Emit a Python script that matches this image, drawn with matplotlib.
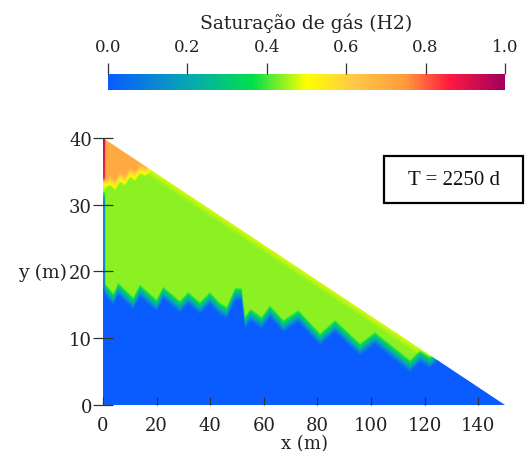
import matplotlib
matplotlib.use("Agg")
import matplotlib.pyplot as plt
import numpy as np
from matplotlib.colors import LinearSegmentedColormap
from matplotlib.patches import Polygon, Rectangle

# domain (right triangle)
x_len = 150.0
y_len = 40.0

# blue / green interface (water below, gas plume above)
front_x = [0, 0.5, 3.9, 5.7, 11.3, 13.8, 20.0, 22.5, 28.7, 31.8, 36.2, 39.9,
           43.3, 46.2, 49.3, 51.7, 53.0, 55.0, 59.2, 62.3, 67.3, 72.9, 81.0,
           86.6, 95.9, 101.5, 114.6, 118.3, 122.0, 126.0, 150.0]
front_y = [17.4, 17.0, 15.4, 17.0, 14.8, 16.7, 14.5, 16.4, 14.3, 15.6, 14.1,
           15.6, 14.1, 13.4, 16.2, 16.2, 11.9, 13.1, 11.9, 13.6, 11.4, 12.9,
           9.4, 11.4, 7.9, 9.6, 5.4, 6.9, 6.0, 7.5, 2.0]

# orange gas cap near the apex
cap_x = [0, 2.6, 4.5, 6.3, 8.2, 10.1, 11.9, 13.8, 16.0, 18.0, 150.0]
cap_y = [33.0, 33.6, 32.9, 34.1, 33.6, 34.8, 34.3, 35.3, 35.0, 36.0, 45.0]

# thin column along the left wall
wall_y = [0, 16.5, 18.0, 30.5, 32.0, 33.0, 34.0, 40.0]
wall_s = [0.0, 0.0, 0.12, 0.12, 0.45, 0.5, 0.85, 0.95]

s_water = 0.0
s_plume = 0.44
s_edge = 0.48
s_cap = 0.70

cbar_ticks = [0.0, 0.2, 0.4, 0.6, 0.8, 1.0]
x_ticks = [0, 20, 40, 60, 80, 100, 120, 140]
y_ticks = [0, 10, 20, 30, 40]

# colormap like the ParaView one
cmap = LinearSegmentedColormap.from_list("sat", [
    (0.00, "#0a5cff"),
    (0.20, "#08a6b4"),
    (0.365, "#00e04c"),
    (0.50, "#ffff00"),
    (0.62, "#ffc848"),
    (0.75, "#ff9a3c"),
    (0.86, "#ff1a40"),
    (1.00, "#a0005c"),
])

# saturation field on a fine grid
nx, ny = 1500, 400
xs = (np.arange(nx) + 0.5) * x_len / nx
ys = (np.arange(ny) + 0.5) * y_len / ny
X, Y = np.meshgrid(xs, ys)
yh = y_len * (1 - X / x_len)

yf = np.interp(X, front_x, front_y)
t_front = np.clip((Y - yf) / 2.0 + 0.3, 0, 1)
plume = s_plume + (s_edge - s_plume) * np.clip(1 - (yh - Y) / 1.2, 0, 1)
S = s_water + (plume - s_water) * t_front

yc = np.interp(X, cap_x, cap_y)
t_cap = np.clip((Y - yc) / 1.6 + 0.5, 0, 1)
S = S + (s_cap - S) * t_cap

wall = X < 0.8
S[wall] = np.interp(Y[wall], wall_y, wall_s)

fig = plt.figure(figsize=(5.25, 4.52), dpi=100)
ax = fig.add_axes([0.1962, 0.1018, 0.7657, 0.5907])

im = ax.imshow(S, extent=[0, x_len, 0, y_len], origin="lower", cmap=cmap,
               vmin=0, vmax=1, aspect="auto", interpolation="bilinear")
tri = Polygon([(0, 0), (x_len, 0), (0, y_len)], closed=True,
              transform=ax.transData, facecolor="none", edgecolor="none")
ax.add_patch(tri)
im.set_clip_path(tri)

ax.set_xlim(0, x_len)
ax.set_ylim(0, y_len)
for s in ax.spines.values():
    s.set_visible(False)

ax.set_xticks(x_ticks)
ax.set_yticks(y_ticks)
ax.tick_params(axis="x", direction="in", length=6, width=0.9, color="#333333",
               pad=8, labelsize=13, labelcolor="#222222")
ax.tick_params(axis="y", direction="inout", length=14, width=0.9, color="#333333",
               pad=1, labelsize=13, labelcolor="#222222")
for lab in ax.get_xticklabels() + ax.get_yticklabels():
    lab.set_family("DejaVu Serif")

ax.set_xlabel("x (m)", family="DejaVu Serif", fontsize=13, color="#222222",
              labelpad=0)
ax.set_ylabel("y (m)", family="DejaVu Serif", fontsize=13.5, color="#222222",
              rotation=0, ha="right", va="center")
ax.yaxis.set_label_coords(-0.089, 0.5)

# colorbar on top
cax = fig.add_axes([0.2057, 0.7987, 0.7562, 0.0354])
cb = fig.colorbar(im, cax=cax, orientation="horizontal", ticks=cbar_ticks)
cb.outline.set_visible(False)
cax.xaxis.set_ticks_position("top")
cax.xaxis.set_label_position("top")
cax.tick_params(direction="out", length=8, width=0.9, color="#333333",
                pad=6, labelsize=12, labelcolor="#222222")
cax.set_xticklabels([f"{t:.1f}" for t in cbar_ticks], family="DejaVu Serif")
cb.set_label("Saturação de gás (H2)", family="DejaVu Serif", fontsize=13.5,
             color="#222222", labelpad=7)

# time box
fig.patches.append(Rectangle((0.732, 0.548), 0.265, 0.104, transform=fig.transFigure,
                             facecolor="white", edgecolor="black", linewidth=1.6))
fig.text(0.864, 0.600, "T = 2250 d", family="Liberation Serif", fontsize=15,
         ha="center", va="center", color="#111111")

fig.savefig("out.png", dpi=100)
